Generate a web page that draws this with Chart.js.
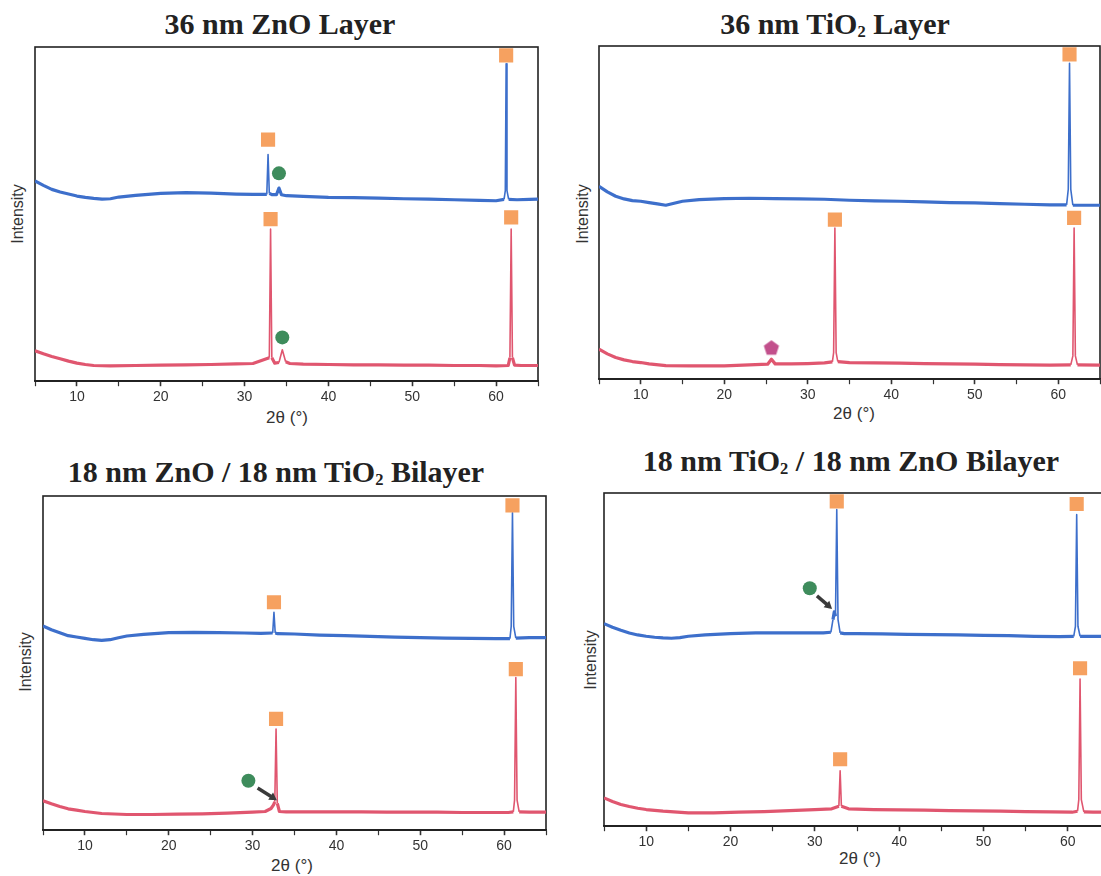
<!DOCTYPE html>
<html><head><meta charset="utf-8">
<script src="https://cdn.jsdelivr.net/npm/chart.js@4.4.1/dist/chart.umd.min.js"></script>
<style>
html,body{margin:0;padding:0;background:#fff;width:1101px;height:876px;overflow:hidden;position:relative;}
canvas{position:absolute;}
.title{position:absolute;font-family:'Liberation Serif','Times New Roman',serif;font-weight:bold;font-size:30px;color:#222;white-space:nowrap;transform:translate(-50%,-50%);line-height:1;}
.title sub{font-size:0.55em;vertical-align:-0.2em;line-height:0;}
.ylab{position:absolute;font-family:'Liberation Sans',Arial,sans-serif;font-size:16px;color:#333;white-space:nowrap;transform:translate(-50%,-50%) rotate(-90deg);}
.xlab{position:absolute;font-family:'Liberation Sans',Arial,sans-serif;font-size:17px;color:#333;white-space:nowrap;transform:translate(-50%,-50%);}
</style></head><body>
<div class="title" style="left:280px;top:24px">36 nm ZnO Layer</div>
<div class="title" style="left:835px;top:24px">36 nm TiO<sub>2</sub> Layer</div>
<div class="title" style="left:276px;top:472px">18 nm ZnO / 18 nm TiO<sub>2</sub> Bilayer</div>
<div class="title" style="left:851px;top:461px">18 nm TiO<sub>2</sub> / 18 nm ZnO Bilayer</div>
<div class="ylab" style="left:18px;top:214px">Intensity</div>
<div class="ylab" style="left:583px;top:214px">Intensity</div>
<div class="ylab" style="left:26px;top:662px">Intensity</div>
<div class="ylab" style="left:591px;top:660px">Intensity</div>
<div class="xlab" style="left:287px;top:418px">2θ (°)</div>
<div class="xlab" style="left:854px;top:414px">2θ (°)</div>
<div class="xlab" style="left:292px;top:866px">2θ (°)</div>
<div class="xlab" style="left:860px;top:859px">2θ (°)</div>
<script>
// ---------- data ----------
const xTickLabels = [10, 20, 30, 40, 50, 60];

// Panel 1: 36 nm ZnO Layer
const zno_blue_x = [5,6,7,8,9,10,11,12,13,14,15,17,20,23,26,29,31,32.65,32.8,32.95,33.3,33.8,34.1,34.4,35,37,40,43,46,49,52,55,58,60,60.95,61.1,61.2,61.3,61.5,62.5,64,65];
const zno_blue_y = [59.9,58.6,57.4,56.6,56.0,55.4,55.0,54.7,54.5,54.6,55.1,55.6,56.2,56.4,56.3,56.0,55.9,55.9,67.8,56.2,55.8,55.8,57.8,55.8,55.5,55.3,55.0,54.9,54.8,54.6,54.5,54.3,54.1,54.0,54.4,57,95,57,54.4,54.3,54.4,54.5];
const zno_red_x = [5,6,7,8,9,10,11,12,14,17,20,23,26,29,31,32.95,33.1,33.25,33.6,34.1,34.5,34.9,35.4,37,40,43,46,49,52,55,58,60,61.45,61.65,61.8,61.95,62.2,63,65];
const zno_red_y = [9.1,8.2,7.4,6.7,6.0,5.4,5.0,4.7,4.6,4.7,4.8,4.9,5.0,5.2,5.3,7,45.5,7,5.4,5.6,9.4,5.8,5.3,5.1,5.0,4.9,4.9,4.8,4.8,4.7,4.7,4.6,4.7,7,45.5,7,4.8,4.7,4.7];
const zno_sq_x = [32.8, 61.2, 33.1, 61.8];
const zno_sq_y = [72.3, 97.5, 48.5, 49.0];
const zno_ci_x = [34.1, 34.5];
const zno_ci_y = [62.2, 13.1];

// Panel 2: 36 nm TiO2 Layer
const tio_blue_x = [5,6,7,8,9,10,11,12,13,14,15,17,20,23,26,29,32,35,38,41,44,47,50,53,56,59,61.0,61.2,61.35,61.5,61.75,63,65];
const tio_blue_y = [57.9,56.2,54.9,54.1,53.6,53.4,53.0,52.6,52.2,52.8,53.4,53.9,54.2,54.3,54.2,54.1,54.0,53.7,53.5,53.4,53.2,53.0,52.9,52.7,52.5,52.3,52.3,57,94.8,57,52.2,52.2,52.2];
const tio_red_x = [5,6,7,8,9,10,11,13,16,20,23,25.2,25.65,26.1,28,30,32,32.95,33.1,33.25,33.4,33.6,35,38,41,44,47,50,53,56,59,61.5,61.75,61.9,62.05,62.3,65];
const tio_red_y = [9.0,7.6,6.5,5.8,5.3,5.0,4.6,4.1,4.0,4.0,4.3,4.5,6.0,4.6,4.6,4.7,4.9,5.2,8,45.4,8,5.3,5.0,4.9,4.8,4.7,4.6,4.5,4.4,4.3,4.2,4.3,7,45.4,7,4.3,4.2];
const tio_sq_x = [61.35, 33.25, 61.9];
const tio_sq_y = [97.5, 47.9, 48.4];
const tio_pent_x = [25.65];
const tio_pent_y = [9.3];

// Panel 3: 18 nm ZnO / 18 nm TiO2 Bilayer
const zt_blue_x = [5,6,7,8,9,10,11,12,13,14,15,17,20,23,26,29,31,32.4,32.55,32.7,33,35,38,41,44,47,50,53,56,59,60.7,60.85,61.0,61.15,61.4,63,65];
const zt_blue_y = [61.1,60.0,59.1,58.2,57.8,57.4,57.0,56.8,57.0,57.6,58.1,58.6,59.1,59.2,59.1,59.0,58.9,59.0,65.2,59.0,58.8,58.7,58.4,58.2,58.0,57.8,57.6,57.5,57.4,57.3,57.3,61,95,61,57.5,57.6,57.6];
const zt_red_x = [5,6,7,8,9,10,12,15,18,21,24,27,30,31.5,32.2,32.5,32.65,32.8,32.95,33.2,34,37,40,43,46,49,52,55,58,60.5,61.1,61.25,61.4,61.55,61.8,63,65];
const zt_red_y = [8.8,7.9,7.1,6.4,6.0,5.6,5.0,4.7,4.7,4.8,4.9,5.1,5.4,5.6,6.5,7.6,8.5,30.3,8,5.6,5.5,5.5,5.5,5.5,5.4,5.4,5.4,5.3,5.3,5.3,5.5,9,45.7,9,5.5,5.4,5.4];
const zt_sq_x = [32.55, 61.0, 32.8, 61.4];
const zt_sq_y = [68.2, 97.2, 33.3, 48.2];
const zt_ci_x = [29.5];
const zt_ci_y = [14.8];
const zt_arrow_x = [30.6, 32.4];
const zt_arrow_y = [12.6, 9.8];

// Panel 4: 18 nm TiO2 / 18 nm ZnO Bilayer
const tz_blue_x = [5,6,7,8,9,10,11,12,13,14,15,17,20,23,26,29,31,31.9,32.15,32.3,32.45,32.6,32.75,33.0,33.5,35,38,41,44,47,50,53,56,59,60.7,60.9,61.05,61.2,61.45,63,65];
const tz_blue_y = [60.8,59.7,58.8,58.0,57.4,57.0,56.7,56.5,56.4,56.6,57.0,57.4,57.8,58.0,58.0,58.0,58.0,58.2,62,64.3,63,95,62,58,57.8,57.8,57.7,57.6,57.5,57.4,57.3,57.2,57.0,56.9,57.0,60,93.5,60,57.0,57.0,57.0];
const tz_red_x = [5,6,7,8,9,10,12,15,18,21,24,27,30,32,32.85,33.0,33.15,34,37,40,43,46,49,52,55,58,60.5,61.15,61.3,61.45,61.6,61.9,63,65];
const tz_red_y = [8.5,7.4,6.5,5.9,5.4,5.0,4.5,4.0,4.0,4.2,4.4,4.7,5.0,5.2,6,16.6,6,5.2,5.0,4.9,4.8,4.7,4.6,4.5,4.4,4.3,4.2,4.5,8,44.2,8,4.3,4.2,4.2];
const tz_sq_x = [32.6, 61.05, 33.0, 61.45];
const tz_sq_y = [97.5, 96.7, 20.1, 47.4];
const tz_ci_x = [29.4];
const tz_ci_y = [71.4];
const tz_arrow_x = [30.25, 31.6];
const tz_arrow_y = [69.1, 66.2];

// ---------- styles ----------
const BLUE = '#3d6fcb', RED = '#e0566f', ORANGE = '#f6a160', GREEN = '#3e8c5c', PINK = '#c2508c', DARK = '#3a3a3a';
const pts = (xs, ys) => xs.map((x, i) => ({x, y: ys[i]}));

function pentagon(r, color) {
  const s = Math.ceil(2 * r + 2), c = document.createElement('canvas');
  c.width = s; c.height = s;
  const g = c.getContext('2d');
  g.fillStyle = color; g.beginPath();
  for (let i = 0; i < 5; i++) {
    const a = -Math.PI / 2 + i * 2 * Math.PI / 5;
    const x = s / 2 + r * Math.cos(a), y = s / 2 + r * Math.sin(a);
    i ? g.lineTo(x, y) : g.moveTo(x, y);
  }
  g.closePath(); g.fill();
  return c;
}

const framePlugin = {
  id: 'frame',
  beforeDatasetsDraw(chart) {
    const {ctx, chartArea: a} = chart;
    ctx.save(); ctx.strokeStyle = '#222'; ctx.lineWidth = 1.6;
    ctx.strokeRect(a.left, a.top, a.right - a.left, a.bottom - a.top);
    ctx.restore();
  }
};

function curve(xs, ys, color) {
  return {type: 'line', data: pts(xs, ys), borderColor: color, borderWidth: 3, pointRadius: 0,
    tension: 0, borderJoinStyle: 'round', order: 5,
    segment: {borderWidth: c => Math.abs(c.p1.parsed.y - c.p0.parsed.y) > 2.5 ? 1.6 : 3.2}};
}
function markers(xs, ys, style, r, color) {
  return {type: 'scatter', data: pts(xs, ys), pointStyle: style, pointRadius: r, pointHoverRadius: r,
    backgroundColor: color, borderWidth: 0, order: 1};
}
function arrow(xs, ys, rot) {
  return {type: 'line', data: pts(xs, ys), borderColor: DARK, borderWidth: 3.5, pointRadius: [0, 5],
    pointStyle: 'triangle', pointRotation: [0, rot], pointBackgroundColor: DARK, pointBorderWidth: 0, order: 2};
}

const panels = [
  {area: [35, 47, 538, 381], datasets: [
    markers(zno_sq_x, zno_sq_y, 'rect', 10, ORANGE),
    markers(zno_ci_x, zno_ci_y, 'circle', 7, GREEN),
    curve(zno_blue_x, zno_blue_y, BLUE), curve(zno_red_x, zno_red_y, RED)]},
  {area: [599, 46, 1100, 379], datasets: [
    markers(tio_sq_x, tio_sq_y, 'rect', 10, ORANGE),
    markers(tio_pent_x, tio_pent_y, pentagon(8, PINK), 8, PINK),
    curve(tio_blue_x, tio_blue_y, BLUE), curve(tio_red_x, tio_red_y, RED)]},
  {area: [43, 496, 546, 830], datasets: [
    markers(zt_sq_x, zt_sq_y, 'rect', 10, ORANGE),
    markers(zt_ci_x, zt_ci_y, 'circle', 7, GREEN),
    arrow(zt_arrow_x, zt_arrow_y, 124),
    curve(zt_blue_x, zt_blue_y, BLUE), curve(zt_red_x, zt_red_y, RED)]},
  {area: [604, 493, 1110, 826], datasets: [
    markers(tz_sq_x, tz_sq_y, 'rect', 10, ORANGE),
    markers(tz_ci_x, tz_ci_y, 'circle', 7, GREEN),
    arrow(tz_arrow_x, tz_arrow_y, 131),
    curve(tz_blue_x, tz_blue_y, BLUE), curve(tz_red_x, tz_red_y, RED)]}
];

function makeConfig(p) {
  return {
    data: {datasets: p.datasets},
    plugins: [framePlugin],
    options: {
      responsive: false, animation: false, events: [],
      layout: {padding: {left: 10, right: 10, top: 10, bottom: 0}},
      plugins: {legend: {display: false}, tooltip: {enabled: false}},
      scales: {
        x: {type: 'linear', min: 5, max: 65,
          ticks: {stepSize: 5, autoSkip: false, maxRotation: 0, padding: 3, color: '#333',
            font: {family: "'Liberation Sans', Arial, sans-serif", size: 14},
            callback: v => xTickLabels.includes(v) ? String(v) : ''},
          grid: {drawOnChartArea: false, drawTicks: true, tickLength: 5, tickColor: '#333',
            tickWidth: c => (c.tick && xTickLabels.includes(c.tick.value)) ? 1.6 : 1.2},
          border: {display: true, color: '#222', width: 1.6}},
        y: {display: false, min: 0, max: 100}
      }
    }
  };
}

panels.forEach(p => {
  const w = p.area[2] - p.area[0], h = p.area[3] - p.area[1];
  const canvas = document.createElement('canvas');
  document.body.appendChild(canvas);
  let W = w + 20, H = h + 10 + 28;
  const setSize = () => {
    canvas.width = W; canvas.height = H;
    canvas.style.width = W + 'px'; canvas.style.height = H + 'px';
  };
  setSize();
  let chart = new Chart(canvas, makeConfig(p));
  const a = chart.chartArea;
  const dh = (a.bottom - a.top) - h, dw = (a.right - a.left) - w;
  if (Math.abs(dh) > 0.5 || Math.abs(dw) > 0.5) {
    chart.destroy();
    H -= dh; W -= dw; setSize();
    chart = new Chart(canvas, makeConfig(p));
  }
  canvas.style.left = (p.area[0] - chart.chartArea.left) + 'px';
  canvas.style.top = (p.area[1] - chart.chartArea.top) + 'px';
});
</script>
</body></html>
